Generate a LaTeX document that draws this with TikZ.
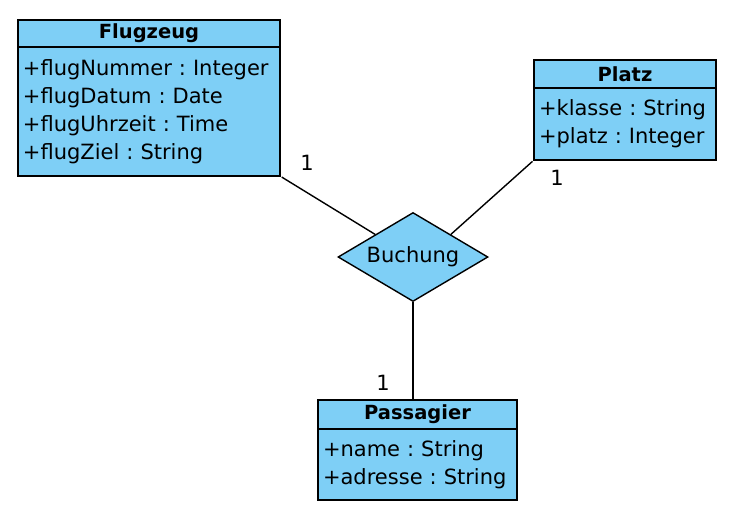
\documentclass[tikz,border=0pt]{standalone}
\usepackage{fontspec}
\setmainfont{DejaVu Sans}
\usetikzlibrary{positioning,shapes.geometric}
\definecolor{classblue}{HTML}{7ECFF6}
\frenchspacing

\begin{document}
\begin{tikzpicture}[x=1pt,y=-1pt,line width=1.4pt,
    every node/.style={font=\fontsize{21}{28}\selectfont},
    class head/.style={rectangle,draw,fill=classblue,outer sep=0pt,inner sep=0pt,font=\fontsize{19.5}{28}\selectfont\bfseries},
    class body/.style={rectangle,draw,fill=classblue,outer sep=0pt,inner xsep=5pt,inner ysep=0pt,align=left,anchor=north},
    relation/.style={diamond,draw,fill=classblue,inner sep=0pt,aspect=1.685,minimum width=150pt,minimum height=89pt},
    mult/.style={inner sep=0pt}]

        \useasboundingbox (0,0) rectangle (742,520);

        \node[class head,anchor=north west,minimum width=262pt,minimum height=27pt] (flugzeug) at (18,20) {Flugzeug};
        \node[class body,text width=252pt,minimum height=129pt] (flugzeug-attr) at (flugzeug.south)
            {+flugNummer : Integer\\+flugDatum : Date\\+flugUhrzeit : Time\\+flugZiel : String};

        \node[class head,anchor=north west,minimum width=182pt,minimum height=28pt] (platz) at (534,60) {Platz};
        \node[class body,text width=172pt,minimum height=72pt] (platz-attr) at (platz.south)
            {+klasse : String\\+platz : Integer};

        \node[class head,anchor=north west,minimum width=199pt,minimum height=29pt] (passagier) at (318,400) {Passagier};
        \node[class body,text width=189pt,minimum height=71pt] (passagier-attr) at (passagier.south)
            {+name : String\\+adresse : String};

        \node[relation] (buchung) at (413,257) {Buchung};

        \draw[shorten <=2pt] (flugzeug-attr.south east) -- (buchung.north west)
            node[mult,pos=0,xshift=27pt,yshift=13pt] {1};
        \draw[shorten <=2pt] (platz-attr.south west) -- (buchung.north east)
            node[mult,pos=0,xshift=23pt,yshift=-18pt] {1};
        \draw (buchung.south) -- (buchung.south |- passagier.north)
            node[mult,pos=1,xshift=-30pt,yshift=17pt] {1};
    \end{tikzpicture}
\end{document}
